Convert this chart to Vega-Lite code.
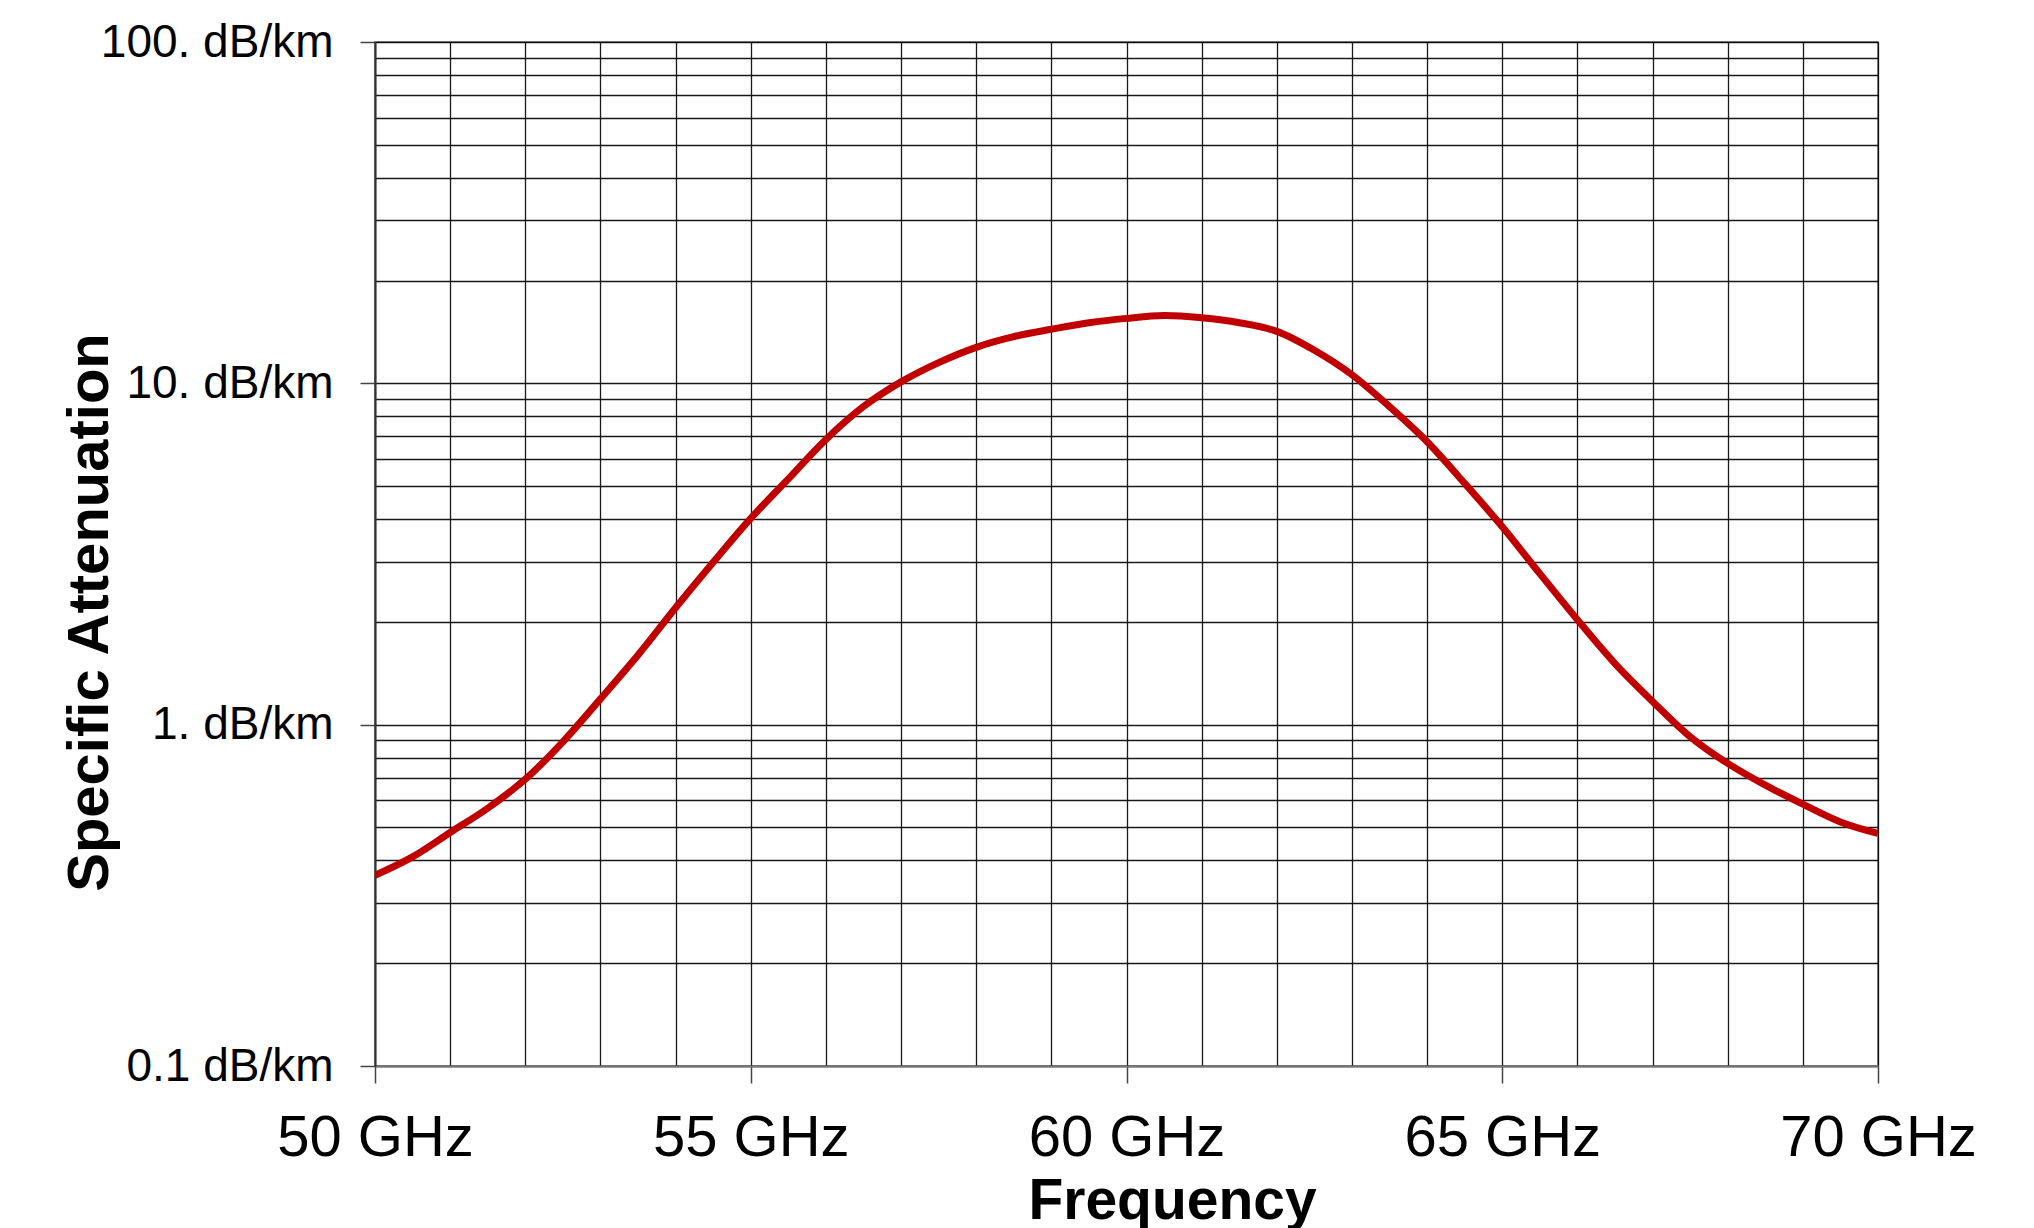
{
  "$schema": "https://vega.github.io/schema/vega-lite/v6.json",
  "autosize": "none",
  "width": 1503,
  "height": 1024,
  "padding": {"left": 375, "top": 42, "right": 156, "bottom": 162},
  "background": "#ffffff",
  "config": {
    "view": {"stroke": "#8c8c8c", "strokeWidth": 2},
    "font": "Liberation Sans"
  },
  "data": {
    "values": [
      {"f": 50, "a": 0.362}, {"f": 50.5, "a": 0.41}, {"f": 51, "a": 0.483}, {"f": 51.5, "a": 0.569},
      {"f": 52, "a": 0.692}, {"f": 52.5, "a": 0.891}, {"f": 53, "a": 1.19}, {"f": 53.5, "a": 1.6},
      {"f": 54, "a": 2.2}, {"f": 54.5, "a": 2.99}, {"f": 55, "a": 4.02}, {"f": 55.5, "a": 5.25},
      {"f": 56, "a": 6.85}, {"f": 56.5, "a": 8.55}, {"f": 57, "a": 10.1}, {"f": 57.5, "a": 11.5},
      {"f": 58, "a": 12.75}, {"f": 58.5, "a": 13.7}, {"f": 59, "a": 14.4}, {"f": 59.5, "a": 15.05},
      {"f": 60, "a": 15.5}, {"f": 60.5, "a": 15.8}, {"f": 61, "a": 15.56}, {"f": 61.5, "a": 15.05},
      {"f": 62, "a": 14.2}, {"f": 62.5, "a": 12.5}, {"f": 63, "a": 10.6}, {"f": 63.5, "a": 8.54},
      {"f": 64, "a": 6.74}, {"f": 64.5, "a": 5.09}, {"f": 65, "a": 3.8}, {"f": 65.5, "a": 2.77},
      {"f": 66, "a": 2.03}, {"f": 66.5, "a": 1.51}, {"f": 67, "a": 1.17}, {"f": 67.5, "a": 0.922},
      {"f": 68, "a": 0.77}, {"f": 68.5, "a": 0.665}, {"f": 69, "a": 0.585}, {"f": 69.5, "a": 0.519},
      {"f": 70, "a": 0.48}
    ]
  },
  "mark": {"type": "line", "color": "#C00000", "strokeWidth": 7, "interpolate": "catmull-rom", "clip": true},
  "encoding": {
    "x": {
      "field": "f",
      "type": "quantitative",
      "scale": {"domain": [50, 70], "nice": false, "zero": false},
      "axis": {
        "title": "Frequency",
        "titleFont": "Liberation Sans",
        "titleFontSize": 57,
        "titleFontWeight": "bold",
        "titleColor": "#000000",
        "titleX": 797,
        "titleY": 152,
        "titleAlign": "center",
        "titleBaseline": "alphabetic",
        "titleLimit": 0,
        "values": [50,51,52,53,54,55,56,57,58,59,60,61,62,63,64,65,66,67,68,69,70],
        "labelExpr": "datum.value % 5 == 0 ? datum.value + ' GHz' : ''",
        "labelFont": "Liberation Sans",
        "labelFontSize": 58,
        "labelColor": "#000000",
        "labelBaseline": "alphabetic",
        "labelPadding": 72,
        "labelLimit": 0,
        "labelFlush": false,
        "labelOverlap": false,
        "labelBound": false,
        "tickSize": 17,
        "tickColor": "#444444",
        "tickWidth": 1.5,
        "tickOpacity": {"condition": {"test": "datum.value % 5 == 0", "value": 1}, "value": 0},
        "grid": true,
        "gridColor": "#000000",
        "gridWidth": 1.3,
        "gridOpacity": 0.9,
        "domainColor": "#777777",
        "domainWidth": 2
      }
    },
    "y": {
      "field": "a",
      "type": "quantitative",
      "scale": {"type": "log", "domain": [0.1, 100], "nice": false},
      "axis": {
        "title": "Specific Attenuation",
        "titleFont": "Liberation Sans",
        "titleFontSize": 58,
        "titleFontWeight": "bold",
        "titleColor": "#000000",
        "titleAngle": -90,
        "titleX": -268,
        "titleY": 570,
        "titleAlign": "center",
        "titleBaseline": "alphabetic",
        "titleLimit": 0,
        "values": [0.1,0.2,0.3,0.4,0.5,0.6,0.7,0.8,0.9,1,2,3,4,5,6,7,8,9,10,20,30,40,50,60,70,80,90,100],
        "labelExpr": "datum.value == 0.1 ? '0.1 dB/km' : datum.value == 1 ? '1. dB/km' : datum.value == 10 ? '10. dB/km' : datum.value == 100 ? '100. dB/km' : ''",
        "labelFont": "Liberation Sans",
        "labelFontSize": 46,
        "labelColor": "#000000",
        "labelPadding": 27,
        "labelLimit": 0,
        "labelFlush": false,
        "labelOverlap": false,
        "labelBound": false,
        "tickSize": 15,
        "tickColor": "#444444",
        "tickWidth": 1.5,
        "tickOpacity": {"condition": {"test": "datum.value == 0.1 || datum.value == 1 || datum.value == 10 || datum.value == 100", "value": 1}, "value": 0},
        "grid": true,
        "gridColor": "#000000",
        "gridWidth": 1.3,
        "gridOpacity": 0.9,
        "domainColor": "#333333",
        "domainWidth": 2
      }
    }
  }
}
